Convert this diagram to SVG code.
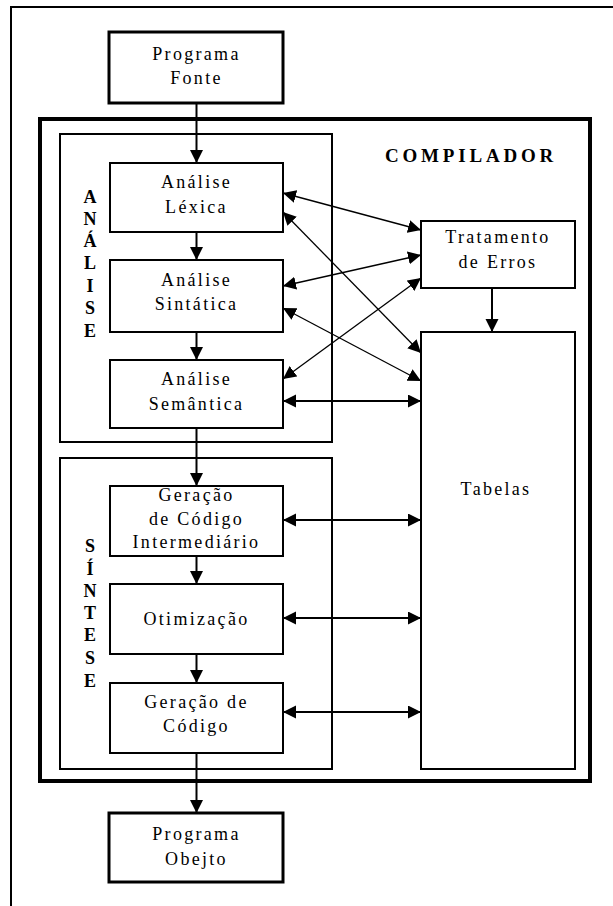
<svg xmlns="http://www.w3.org/2000/svg" width="613" height="906" viewBox="0 0 613 906">
<style>
.frame{fill:none;stroke:#000;stroke-width:2}
.box{fill:#fff;stroke:#000;stroke-width:2}
.pbox{fill:#fff;stroke:#000;stroke-width:3}
.grp{fill:none;stroke:#000;stroke-width:2}
.comp{fill:none;stroke:#000;stroke-width:4}
.t{font-family:"Liberation Serif","Times New Roman",serif;font-size:18px;letter-spacing:2.3px;text-anchor:middle;fill:#000}
.v{font-family:"Liberation Serif","Times New Roman",serif;font-size:18px;font-weight:bold;text-anchor:middle;fill:#000}
.title{font-family:"Liberation Serif","Times New Roman",serif;font-size:19px;font-weight:bold;letter-spacing:3.8px;fill:#000}
.c{stroke:#000;stroke-width:2;fill:none;marker-end:url(#ah)}
.d{stroke:#000;stroke-width:1.3;fill:none;marker-start:url(#ah);marker-end:url(#ah)}
.h{stroke:#000;stroke-width:2;fill:none;marker-start:url(#ah);marker-end:url(#ah)}
</style>
<defs>
<marker id="ah" markerUnits="userSpaceOnUse" markerWidth="14" markerHeight="14" refX="13" refY="6.5" orient="auto-start-reverse">
<path d="M0,0 L13,6.5 L0,13 z" fill="#000"/>
</marker>
</defs>
<g id="page-frame">
<path class="frame" d="M11,906 L11,7 L613,7"/>
</g>
<g id="compilador">
<rect class="comp" x="40" y="119" width="550" height="662"/>
<text class="title" x="385" y="162">COMPILADOR</text>
</g>
<g id="analise-group">
<rect class="grp" x="60" y="134" width="272" height="308"/>
<text class="v" x="90" y="203">A</text>
<text class="v" x="90" y="225">N</text>
<text class="v" x="90" y="247">Á</text>
<text class="v" x="90" y="269">L</text>
<text class="v" x="90" y="292">I</text>
<text class="v" x="90" y="314">S</text>
<text class="v" x="90" y="337">E</text>
</g>
<g id="sintese-group">
<rect class="grp" x="60" y="458" width="272" height="311"/>
<text class="v" x="90" y="552">S</text>
<text class="v" x="90" y="575">Í</text>
<text class="v" x="90" y="597">N</text>
<text class="v" x="90" y="619">T</text>
<text class="v" x="90" y="641">E</text>
<text class="v" x="90" y="664">S</text>
<text class="v" x="90" y="687">E</text>
</g>
<g id="programa-fonte">
<rect class="pbox" x="109" y="32" width="174" height="71"/>
<text class="t" x="196.5" y="60">Programa</text>
<text class="t" x="196.5" y="84">Fonte</text>
</g>
<g id="analise-lexica">
<rect class="box" x="110" y="163" width="173" height="69"/>
<text class="t" x="196.5" y="188">Análise</text>
<text class="t" x="196.5" y="213">Léxica</text>
</g>
<g id="analise-sintatica">
<rect class="box" x="110" y="260" width="173" height="72"/>
<text class="t" x="196.5" y="286">Análise</text>
<text class="t" x="196.5" y="310">Sintática</text>
</g>
<g id="analise-semantica">
<rect class="box" x="110" y="360" width="173" height="68"/>
<text class="t" x="196.5" y="385">Análise</text>
<text class="t" x="196.5" y="410">Semântica</text>
</g>
<g id="geracao-intermediario">
<rect class="box" x="110" y="486" width="173" height="70"/>
<text class="t" x="196.5" y="501">Geração</text>
<text class="t" x="196.5" y="525">de Código</text>
<text class="t" x="196.5" y="548">Intermediário</text>
</g>
<g id="otimizacao">
<rect class="box" x="110" y="584" width="173" height="70"/>
<text class="t" x="196.5" y="625">Otimização</text>
</g>
<g id="geracao-codigo">
<rect class="box" x="110" y="683" width="173" height="70"/>
<text class="t" x="196.5" y="708">Geração de</text>
<text class="t" x="196.5" y="732">Código</text>
</g>
<g id="programa-objeto">
<rect class="pbox" x="109" y="813" width="174" height="69"/>
<text class="t" x="196.5" y="840">Programa</text>
<text class="t" x="196.5" y="865">Obejto</text>
</g>
<g id="tratamento-erros">
<rect class="box" x="421" y="221" width="154" height="67"/>
<text class="t" x="498" y="243">Tratamento</text>
<text class="t" x="498" y="268">de Erros</text>
</g>
<g id="tabelas">
<rect class="box" x="421" y="332" width="154" height="437"/>
<text class="t" x="496" y="495">Tabelas</text>
</g>
<g id="connectors">
<line class="c" x1="196.5" y1="103" x2="196.5" y2="163"/>
<line class="c" x1="196.5" y1="232" x2="196.5" y2="260"/>
<line class="c" x1="196.5" y1="332" x2="196.5" y2="360"/>
<line class="c" x1="196.5" y1="428" x2="196.5" y2="486"/>
<line class="c" x1="196.5" y1="556" x2="196.5" y2="584"/>
<line class="c" x1="196.5" y1="654" x2="196.5" y2="683"/>
<line class="c" x1="196.5" y1="753" x2="196.5" y2="813"/>
<line class="c" x1="492" y1="288" x2="492" y2="332"/>
<line class="d" x1="283" y1="193" x2="421" y2="230"/>
<line class="d" x1="283" y1="212" x2="421" y2="353"/>
<line class="d" x1="283" y1="286" x2="421" y2="255"/>
<line class="d" x1="283" y1="308" x2="421" y2="381"/>
<line class="d" x1="283" y1="379" x2="421" y2="278"/>
<line class="h" x1="283" y1="401" x2="421" y2="401"/>
<line class="h" x1="283" y1="520" x2="421" y2="520"/>
<line class="h" x1="283" y1="618" x2="421" y2="618"/>
<line class="h" x1="283" y1="712" x2="421" y2="712"/>
</g>
</svg>
